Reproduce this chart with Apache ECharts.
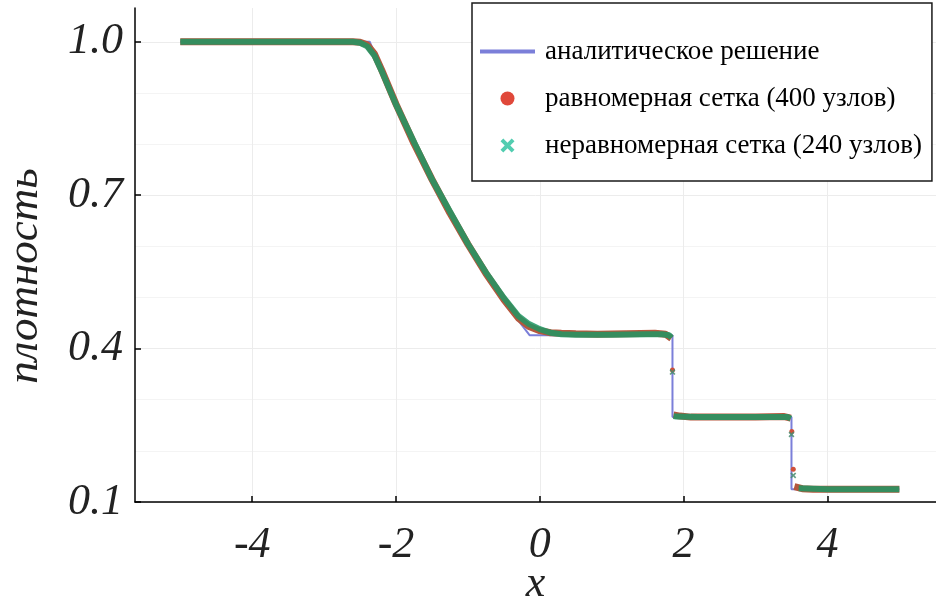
<!DOCTYPE html>
<html>
<head>
<meta charset="utf-8">
<script src="https://cdn.jsdelivr.net/npm/echarts@6/dist/echarts.min.js"></script>
<style>
html,body{margin:0;padding:0;background:#fff;}
#chart{width:936px;height:602px;}
</style>
</head>
<body>
<div id="chart"></div>
<script>
// ---- data ----
const seriesNames = [
  'аналитическое решение',
  'равномерная сетка (400 узлов)',
  'неравномерная сетка (240 узлов)'
];
const xTicks = [-4, -2, 0, 2, 4];
const yTicks = [0.1, 0.4, 0.7, 1.0];
const yMinorTicks = [0.2, 0.3, 0.5, 0.6, 0.8, 0.9];

// analytic solution
const analyticX = [-5, -2.366, -2.25, -2.0, -1.75, -1.5, -1.25, -1.0, -0.75, -0.5, -0.25, -0.14, 1.845, 1.845, 3.50, 3.50, 5.0];
const analyticY = [1.0, 1.0, 0.960, 0.878, 0.801, 0.730, 0.664, 0.603, 0.546, 0.494, 0.446, 0.426, 0.426, 0.266, 0.266, 0.125, 0.125];

// uniform grid (400 nodes) — null = gap between nodes across a jump
const uniformX = [-5, -2.6, -2.5, -2.4, -2.3, -2.2, -2.0, -1.75, -1.5, -1.25, -1.0, -0.75, -0.5, -0.3, -0.15, 0.0, 0.15, 0.3, 0.5, 0.8, 1.2, 1.6, 1.75, 1.83, 1.84, 1.845, 1.85, 1.86, 1.95, 2.1, 2.5, 3.0, 3.4, 3.49, 3.495, 3.505, 3.51, 3.525, 3.53, 3.54, 3.65, 3.8, 4.5, 5.0];
const uniformY = [1.0, 1.0, 0.999, 0.994, 0.976, 0.945, 0.878, 0.801, 0.731, 0.665, 0.604, 0.547, 0.496, 0.460, 0.443, 0.435, 0.431, 0.430, 0.429, 0.428, 0.429, 0.430, 0.428, 0.420, null, 0.358, null, 0.270, 0.268, 0.266, 0.266, 0.266, 0.267, 0.264, null, 0.238, null, 0.164, null, 0.130, 0.126, 0.125, 0.125, 0.125];

// non-uniform grid (240 nodes)
const nonuniformX = [-5, -2.6, -2.5, -2.4, -2.3, -2.2, -2.0, -1.5, -1.0, -0.75, -0.5, -0.3, -0.15, 0.0, 0.15, 0.3, 0.5, 1.0, 1.5, 1.7, 1.8, 1.83, 1.84, 1.845, 1.85, 1.86, 1.9, 2.2, 3.0, 3.45, 3.49, 3.495, 3.50, 3.51, 3.525, 3.535, 3.6, 4.0, 5.0];
const nonuniformY = [1.0, 1.0, 0.998, 0.991, 0.973, 0.943, 0.877, 0.731, 0.605, 0.549, 0.499, 0.464, 0.448, 0.438, 0.431, 0.428, 0.427, 0.427, 0.428, 0.428, 0.426, 0.421, null, 0.354, null, 0.268, 0.267, 0.266, 0.266, 0.266, 0.263, null, 0.232, null, 0.152, null, 0.127, 0.125, 0.125];

// ---- styling ----
const SERIF = '"Liberation Serif", "DejaVu Serif", serif';
const crossPath = 'path://M0,2 L2,0 L5,3 L8,0 L10,2 L7,5 L10,8 L8,10 L5,7 L2,10 L0,8 L3,5 Z';
const lineIcon = 'path://M0,0 H55 V4 H0 Z';

function build(xs, ys, markSymbol, markSize, markColor) {
  return xs.map((x, i) => {
    const y = ys[i];
    const isolated = y !== null && ys[i - 1] === null && ys[i + 1] === null;
    if (isolated) {
      return { value: [x, y], symbol: markSymbol, symbolSize: markSize, itemStyle: { color: markColor } };
    }
    return { value: [x, y] };
  });
}

const chart = echarts.init(document.getElementById('chart'));
const option = {
  animation: false,
  backgroundColor: '#ffffff',
  grid: { left: 135, right: 0, top: 8, bottom: 100, containLabel: false, outerBoundsMode: 'none' },
  legend: {
    orient: 'vertical',
    left: 472, top: 3,
    padding: [35, 10, 22, 8],
    itemWidth: 55, itemHeight: 14, itemGap: 20,
    backgroundColor: '#ffffff',
    borderColor: '#1a1a1a', borderWidth: 1.5, borderRadius: 0,
    textStyle: { fontFamily: SERIF, fontSize: 27, lineHeight: 26, color: '#000', padding: [0, 0, 0, 5] },
    data: [
      { name: seriesNames[0], icon: lineIcon, itemStyle: { color: '#7b7fd9', borderWidth: 0 } },
      { name: seriesNames[1], icon: 'circle', itemStyle: { color: '#e0483a', borderWidth: 0 } },
      { name: seriesNames[2], icon: crossPath, itemStyle: { color: '#52cdb0', borderWidth: 0 } }
    ]
  },
  xAxis: {
    type: 'value', min: -5.63, max: 5.51,
    name: 'x', nameLocation: 'middle', nameGap: 60, nameMoveOverlap: false,
    nameTextStyle: { fontFamily: SERIF, fontStyle: 'italic', fontSize: 44, color: '#222' },
    axisLine: { onZero: false, lineStyle: { color: '#000', width: 1.5 } },
    axisTick: { inside: true, length: 6, customValues: xTicks, lineStyle: { color: '#000', width: 1.5 } },
    axisLabel: { customValues: xTicks, margin: 21, fontFamily: SERIF, fontStyle: 'italic', fontSize: 44, color: '#222',
      formatter: v => String(v) },
    splitLine: { show: true, lineStyle: { color: '#ececec', width: 1 } }
  },
  yAxis: [{
    type: 'value', min: 0.1, max: 1.066,
    name: 'плотность', nameLocation: 'middle', nameGap: 87, nameMoveOverlap: false,
    nameTextStyle: { fontFamily: SERIF, fontStyle: 'italic', fontSize: 45, color: '#222', padding: [0, 42, 0, 0] },
    axisLine: { show: true, onZero: false, lineStyle: { color: '#000', width: 1.5 } },
    axisTick: { show: true, inside: true, length: 6, customValues: yTicks, lineStyle: { color: '#000', width: 1.5 } },
    axisLabel: { customValues: yTicks, margin: 12, fontFamily: SERIF, fontStyle: 'italic', fontSize: 44, color: '#222',
      formatter: v => v.toFixed(1) },
    splitLine: { show: true, lineStyle: { color: '#ececec', width: 1 } }
  }, {
    type: 'value', min: 0.1, max: 1.066, position: 'left',
    axisLine: { show: false, onZero: false }, axisLabel: { show: false },
    axisTick: { show: false, customValues: yMinorTicks },
    splitLine: { show: true, lineStyle: { color: '#f4f4f4', width: 1 } }
  }],
  series: [
    {
      name: seriesNames[0], type: 'line', symbol: 'none', z: 2,
      data: analyticX.map((x, i) => [x, analyticY[i]]),
      itemStyle: { color: '#7b7fd9' },
      lineStyle: { color: '#7b7fd9', width: 2 }
    },
    {
      name: seriesNames[1], type: 'line', symbol: 'none', showSymbol: true, z: 3,
      data: build(uniformX, uniformY, 'circle', 5, '#d0503a'),
      itemStyle: { color: '#e0483a' },
      lineStyle: { color: '#b5573d', width: 7 }
    },
    {
      name: seriesNames[2], type: 'line', symbol: 'none', showSymbol: true, z: 4,
      data: build(nonuniformX, nonuniformY, crossPath, 6, 'rgba(70,140,110,0.85)'),
      itemStyle: { color: '#52cdb0' },
      lineStyle: { color: 'rgba(30,150,100,0.85)', width: 6 }
    }
  ]
};
chart.setOption(option);
</script>
</body>
</html>
